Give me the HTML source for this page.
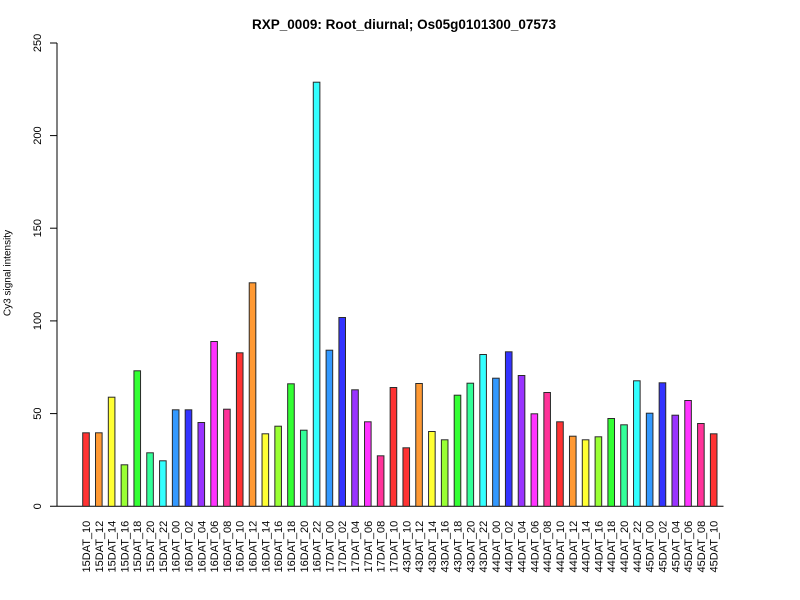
<!DOCTYPE html>
<html><head><meta charset="utf-8"><style>
html,body{margin:0;padding:0;background:#fff;}
svg{display:block;}
text{font-family:"Liberation Sans",Arial,sans-serif;fill:#000;}
</style></head><body>
<svg width="800" height="600" viewBox="0 0 800 600" xmlns="http://www.w3.org/2000/svg">
<rect width="800" height="600" fill="#fff"/>
<text x="404" y="29" text-anchor="middle" font-size="13.5" font-weight="bold">RXP_0009: Root_diurnal; Os05g0101300_07573</text>
<text transform="translate(10.5,273) rotate(-90)" text-anchor="middle" font-size="10">Cy3 signal intensity</text>
<g stroke="#000" stroke-width="1" fill="none">
<line x1="57" y1="43" x2="57" y2="506.5"/>
<line x1="50" y1="43" x2="57" y2="43"/>
<line x1="50" y1="135.6" x2="57" y2="135.6"/>
<line x1="50" y1="228.2" x2="57" y2="228.2"/>
<line x1="50" y1="320.9" x2="57" y2="320.9"/>
<line x1="50" y1="413.6" x2="57" y2="413.6"/>
<line x1="50" y1="506.3" x2="723.5" y2="506.3"/>
</g>
<g font-size="11" text-anchor="middle">
<text transform="translate(41,43) rotate(-90)">250</text>
<text transform="translate(41,135.6) rotate(-90)">200</text>
<text transform="translate(41,228.2) rotate(-90)">150</text>
<text transform="translate(41,320.9) rotate(-90)">100</text>
<text transform="translate(41,413.6) rotate(-90)">50</text>
<text transform="translate(41,506.3) rotate(-90)">0</text>
</g>
<g stroke="#2a2a2a" stroke-width="1">
<rect x="82.70" y="432.8" width="6.6" height="73.5" fill="#FF3333"/>
<rect x="95.51" y="432.8" width="6.6" height="73.5" fill="#FF9933"/>
<rect x="108.32" y="397.2" width="6.6" height="109.1" fill="#FFFF33"/>
<rect x="121.13" y="464.8" width="6.6" height="41.5" fill="#99FF33"/>
<rect x="133.94" y="370.8" width="6.6" height="135.5" fill="#33FF33"/>
<rect x="146.75" y="452.8" width="6.6" height="53.5" fill="#33FF99"/>
<rect x="159.56" y="460.8" width="6.6" height="45.5" fill="#33FFFF"/>
<rect x="172.37" y="409.8" width="6.6" height="96.5" fill="#3399FF"/>
<rect x="185.18" y="409.8" width="6.6" height="96.5" fill="#3333FF"/>
<rect x="197.99" y="422.5" width="6.6" height="83.8" fill="#9933FF"/>
<rect x="210.80" y="341.5" width="6.6" height="164.8" fill="#FF33FF"/>
<rect x="223.61" y="409.2" width="6.6" height="97.1" fill="#FF3399"/>
<rect x="236.42" y="352.8" width="6.6" height="153.5" fill="#FF3333"/>
<rect x="249.23" y="282.8" width="6.6" height="223.5" fill="#FF9933"/>
<rect x="262.04" y="433.8" width="6.6" height="72.5" fill="#FFFF33"/>
<rect x="274.85" y="426.2" width="6.6" height="80.1" fill="#99FF33"/>
<rect x="287.66" y="383.8" width="6.6" height="122.5" fill="#33FF33"/>
<rect x="300.47" y="430.2" width="6.6" height="76.1" fill="#33FF99"/>
<rect x="313.28" y="82.2" width="6.6" height="424.1" fill="#33FFFF"/>
<rect x="326.09" y="350.2" width="6.6" height="156.1" fill="#3399FF"/>
<rect x="338.90" y="317.5" width="6.6" height="188.8" fill="#3333FF"/>
<rect x="351.71" y="389.8" width="6.6" height="116.5" fill="#9933FF"/>
<rect x="364.52" y="421.8" width="6.6" height="84.5" fill="#FF33FF"/>
<rect x="377.33" y="455.8" width="6.6" height="50.5" fill="#FF3399"/>
<rect x="390.14" y="387.5" width="6.6" height="118.8" fill="#FF3333"/>
<rect x="402.95" y="447.8" width="6.6" height="58.5" fill="#FF3333"/>
<rect x="415.76" y="383.5" width="6.6" height="122.8" fill="#FF9933"/>
<rect x="428.57" y="431.5" width="6.6" height="74.8" fill="#FFFF33"/>
<rect x="441.38" y="439.8" width="6.6" height="66.5" fill="#99FF33"/>
<rect x="454.19" y="395.2" width="6.6" height="111.1" fill="#33FF33"/>
<rect x="467.00" y="383.2" width="6.6" height="123.1" fill="#33FF99"/>
<rect x="479.81" y="354.5" width="6.6" height="151.8" fill="#33FFFF"/>
<rect x="492.62" y="378.2" width="6.6" height="128.1" fill="#3399FF"/>
<rect x="505.43" y="351.8" width="6.6" height="154.5" fill="#3333FF"/>
<rect x="518.24" y="375.5" width="6.6" height="130.8" fill="#9933FF"/>
<rect x="531.05" y="413.8" width="6.6" height="92.5" fill="#FF33FF"/>
<rect x="543.86" y="392.5" width="6.6" height="113.8" fill="#FF3399"/>
<rect x="556.67" y="421.8" width="6.6" height="84.5" fill="#FF3333"/>
<rect x="569.48" y="436.2" width="6.6" height="70.1" fill="#FF9933"/>
<rect x="582.29" y="439.8" width="6.6" height="66.5" fill="#FFFF33"/>
<rect x="595.10" y="436.8" width="6.6" height="69.5" fill="#99FF33"/>
<rect x="607.91" y="418.5" width="6.6" height="87.8" fill="#33FF33"/>
<rect x="620.72" y="424.8" width="6.6" height="81.5" fill="#33FF99"/>
<rect x="633.53" y="380.8" width="6.6" height="125.5" fill="#33FFFF"/>
<rect x="646.34" y="413.2" width="6.6" height="93.1" fill="#3399FF"/>
<rect x="659.15" y="382.8" width="6.6" height="123.5" fill="#3333FF"/>
<rect x="671.96" y="415.2" width="6.6" height="91.1" fill="#9933FF"/>
<rect x="684.77" y="400.5" width="6.6" height="105.8" fill="#FF33FF"/>
<rect x="697.58" y="423.5" width="6.6" height="82.8" fill="#FF3399"/>
<rect x="710.39" y="433.8" width="6.6" height="72.5" fill="#FF3333"/>
</g>
<g font-size="11" text-anchor="end">
<text transform="translate(90.00,520.7) rotate(-90)">15DAT_10</text>
<text transform="translate(102.81,520.7) rotate(-90)">15DAT_12</text>
<text transform="translate(115.62,520.7) rotate(-90)">15DAT_14</text>
<text transform="translate(128.43,520.7) rotate(-90)">15DAT_16</text>
<text transform="translate(141.24,520.7) rotate(-90)">15DAT_18</text>
<text transform="translate(154.05,520.7) rotate(-90)">15DAT_20</text>
<text transform="translate(166.86,520.7) rotate(-90)">15DAT_22</text>
<text transform="translate(179.67,520.7) rotate(-90)">16DAT_00</text>
<text transform="translate(192.48,520.7) rotate(-90)">16DAT_02</text>
<text transform="translate(205.29,520.7) rotate(-90)">16DAT_04</text>
<text transform="translate(218.10,520.7) rotate(-90)">16DAT_06</text>
<text transform="translate(230.91,520.7) rotate(-90)">16DAT_08</text>
<text transform="translate(243.72,520.7) rotate(-90)">16DAT_10</text>
<text transform="translate(256.53,520.7) rotate(-90)">16DAT_12</text>
<text transform="translate(269.34,520.7) rotate(-90)">16DAT_14</text>
<text transform="translate(282.15,520.7) rotate(-90)">16DAT_16</text>
<text transform="translate(294.96,520.7) rotate(-90)">16DAT_18</text>
<text transform="translate(307.77,520.7) rotate(-90)">16DAT_20</text>
<text transform="translate(320.58,520.7) rotate(-90)">16DAT_22</text>
<text transform="translate(333.39,520.7) rotate(-90)">17DAT_00</text>
<text transform="translate(346.20,520.7) rotate(-90)">17DAT_02</text>
<text transform="translate(359.01,520.7) rotate(-90)">17DAT_04</text>
<text transform="translate(371.82,520.7) rotate(-90)">17DAT_06</text>
<text transform="translate(384.63,520.7) rotate(-90)">17DAT_08</text>
<text transform="translate(397.44,520.7) rotate(-90)">17DAT_10</text>
<text transform="translate(410.25,520.7) rotate(-90)">43DAT_10</text>
<text transform="translate(423.06,520.7) rotate(-90)">43DAT_12</text>
<text transform="translate(435.87,520.7) rotate(-90)">43DAT_14</text>
<text transform="translate(448.68,520.7) rotate(-90)">43DAT_16</text>
<text transform="translate(461.49,520.7) rotate(-90)">43DAT_18</text>
<text transform="translate(474.30,520.7) rotate(-90)">43DAT_20</text>
<text transform="translate(487.11,520.7) rotate(-90)">43DAT_22</text>
<text transform="translate(499.92,520.7) rotate(-90)">44DAT_00</text>
<text transform="translate(512.73,520.7) rotate(-90)">44DAT_02</text>
<text transform="translate(525.54,520.7) rotate(-90)">44DAT_04</text>
<text transform="translate(538.35,520.7) rotate(-90)">44DAT_06</text>
<text transform="translate(551.16,520.7) rotate(-90)">44DAT_08</text>
<text transform="translate(563.97,520.7) rotate(-90)">44DAT_10</text>
<text transform="translate(576.78,520.7) rotate(-90)">44DAT_12</text>
<text transform="translate(589.59,520.7) rotate(-90)">44DAT_14</text>
<text transform="translate(602.40,520.7) rotate(-90)">44DAT_16</text>
<text transform="translate(615.21,520.7) rotate(-90)">44DAT_18</text>
<text transform="translate(628.02,520.7) rotate(-90)">44DAT_20</text>
<text transform="translate(640.83,520.7) rotate(-90)">44DAT_22</text>
<text transform="translate(653.64,520.7) rotate(-90)">45DAT_00</text>
<text transform="translate(666.45,520.7) rotate(-90)">45DAT_02</text>
<text transform="translate(679.26,520.7) rotate(-90)">45DAT_04</text>
<text transform="translate(692.07,520.7) rotate(-90)">45DAT_06</text>
<text transform="translate(704.88,520.7) rotate(-90)">45DAT_08</text>
<text transform="translate(717.69,520.7) rotate(-90)">45DAT_10</text>
</g>
</svg>
</body></html>
